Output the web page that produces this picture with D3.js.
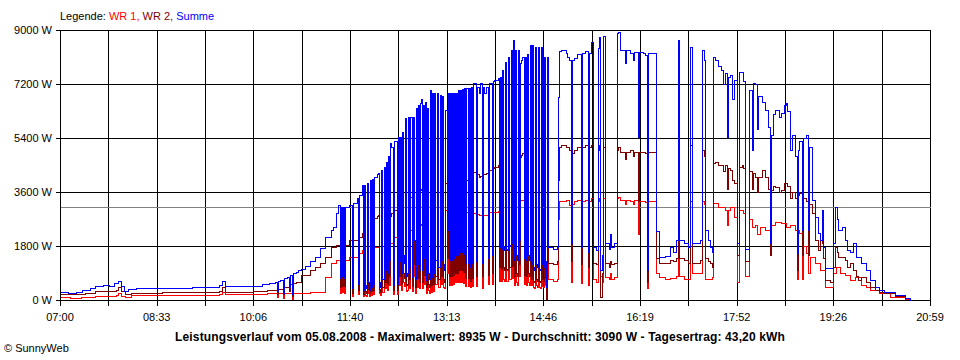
<!DOCTYPE html>
<html>
<head>
<meta charset="utf-8">
<script src="https://cdn.jsdelivr.net/npm/d3@7"></script>
<style>
  body { margin: 0; background: #fff; }
  svg { display: block; font-family: "Liberation Sans", Arial, sans-serif; font-size: 11px; }
</style>
</head>
<body>
<div id="chart"></div>
<script>
// time = minutes after 07:00, value = W
const xTickLabels = ['07:00', '08:33', '10:06', '11:40', '13:13', '14:46', '16:19', '17:52', '19:26', '20:59'];
const yTicks = [0, 1800, 3600, 5400, 7200, 9000];
const averageW = 3090;

const summe = [
  [0,270],[8,230],[15,260],[21,330],[29,400],[34,460],[41,500],[47,470],[52,560],[56,650],[59,480],[62,300],[66,380],[73,400],[98,410],[127,420],[147,440],[153,500],[156,650],[159,470],[166,460],[186,480],[195,530],[202,560],[207,600],[209,300],[210,620],[212,680],[215,250],[216,720],[219,780],[221,430],[222,850],[224,200],[225,900],[228,950],[230,1000],
  [232,1030],[236,1150],[241,1300],[246,1440],[251,1750],[256,2100],[261,2350],[263,2450],[266,2900],[268,3170],[270,730],[271,3100],[272,800],[273,3100],[274,750],[275,3100],[279,3170],[282,400],[283,3250],[286,3400],[287,550],[288,3500],[291,3830],[292,330],[293,3830],[294,500],[295,400],[296,3900],[297,600],[298,350],[299,4000],[300,450],[301,4050],[302,550],[303,4100],[306,4200],[307,4250],[308,600],[309,450],[310,4330],[311,700],[312,4450],[313,1000],[314,4600],[315,900],[316,4800],[317,1330],[318,5230],[319,5100],[321,500],[322,5300],[325,550],
  [326,5430],[327,1300],[328,5430],[329,900],[330,5600],[331,1500],[332,1230],[333,6070],[334,800],[335,900],[336,6100],[337,1100],[338,6100],[339,770],[340,6100],[341,2000],[342,700],[343,6400],[344,1200],[345,6500],[346,1000],[347,6570],[348,6700],[349,1000],[350,6500],[351,1400],[352,6600],[353,670],[354,6400],[355,900],[356,700],[357,7000],
  [358,770],[359,6900],[360,900],[361,6900],[362,1330],[363,1330],[364,6900],[365,1100],[366,6850],[367,1330],[368,6800],[369,1200],[370,1000],[371,6330],[373,2330],[374,6900],[375,1330],[376,6900],[377,1330],[378,6900],[379,1400],[380,6900],[381,1500],[382,6900],[383,1500],[384,7000],[385,1600],[386,7000],[387,1600],[388,7050],[389,1530],[390,7070],[391,1230],[392,7070],[393,1230],[394,7070],[395,1100],[396,7100],[397,1230],[398,7230],[401,1300],[402,7100],[404,6900],[405,7230],[407,1230],[408,7100],[409,6900],[411,7100],[413,1400],[414,7230],[417,1500],[418,7300],[419,7330],[422,7400],
  [423,1770],[424,7430],[425,1700],[426,7670],[427,1800],[428,1670],[429,7930],[430,1700],[431,1670],[432,8100],[433,1800],[434,1830],[435,8330],[436,1900],[437,8670],[438,1330],[439,8330],[440,1500],[441,1330],[442,8330],[443,2000],[444,7900],[445,8000],[446,8100],[447,1400],[448,8100],[449,1330],[450,8200],[451,1500],[452,1330],[453,8500],[454,1200],[455,8500],[456,1100],[457,1000],[458,8450],[459,1200],[460,1100],[461,8430],[462,1050],[463,1000],[464,8430],[465,1200],[466,1100],[467,8100],[468,1300],[469,450],[470,8100],[471,1770],[475,1700],[479,1770],[480,6770],[481,8300],
  [483,8330],[488,8230],[489,8100],[491,8000],[493,1900],[494,8000],[496,8050],[499,8200],[502,1770],[503,8230],[506,8300],[509,1600],[510,8230],[512,8600],[514,1770],[517,1670],[519,8400],[520,8770],[521,1000],[523,1500],[524,8800],[526,1900],[529,1700],[530,2200],[531,1770],[534,1900],[537,8900],[538,8935],[540,8330],[545,7900],[546,8330],[550,8230],[553,8000],[554,8270],[557,5430],[558,8270],[562,8230],[564,8170],[566,1000],[567,8230],[571,8230],[574,8230],[575,2300],[578,1430],[583,1470],[588,1770],[591,1600],[594,2000],[596,8670],[597,2000],[602,1900],[606,1770],
  [608,8430],[609,1900],[613,1900],[617,2000],[619,8330],[621,8000],[622,2330],[625,2000],[627,1770],[629,1600],[630,8100],[632,8000],[635,7800],[637,7670],[639,7200],[641,7570],[643,5430],[644,7430],[646,7500],[648,6700],[650,7330],[653,1900],[655,7600],[658,7600],[659,7300],[661,1700],[663,1700],[664,7000],[667,5000],[668,7230],[670,7200],[672,5700],[673,6800],[677,6600],[680,6330],[683,5770],[685,1900],[686,5500],[688,6200],[690,6330],[693,6100],[695,6230],[698,6500],[700,6570],[701,6300],[704,5000],[706,5500],[709,4800],[711,1570],[712,5000],[713,5300],[716,2330],[717,5400],[719,5500],[721,2330],[722,5100],[725,3330],[728,2770],[731,2230],[733,2000],[735,3000],[736,1770],[738,1070],[743,1070],[745,1900],[747,3100],[749,2700],[750,2330],[754,2430],[757,2000],[759,1670],[762,1600],[765,1900],[768,1430],[772,1230],[777,1000],[781,670],[786,430],[790,330],[795,270],[805,170],[815,70],[820,0]
];

const wr2 = [
  [0,200],[15,190],[24,250],[34,300],[44,310],[54,350],[56,420],[59,300],[63,200],[68,250],[98,260],[127,270],[153,300],[156,420],[159,280],[186,300],[200,330],[209,200],[210,380],[215,200],[216,420],[221,300],[222,520],[224,150],[225,560],[228,600],
  [232,830],[241,1000],[246,1100],[251,1250],[256,1430],[261,1770],[266,1830],[270,450],[271,1830],[272,480],[273,1830],[274,460],[275,1830],[279,2000],[282,250],[283,2000],[287,350],[288,2100],[291,2230],[292,200],[293,2230],[294,300],[295,250],[296,2400],[297,380],[298,220],[299,2570],[300,300],[301,2650],[302,350],[303,2730],[306,2800],[307,2850],[308,380],[309,280],[310,2930],[311,450],[312,2930],[313,600],[314,2930],[315,550],[316,2900],[317,800],[318,2800],[319,2900],[321,320],[322,3000],[325,350],
  [326,3100],[327,800],[328,3200],[329,550],[330,3250],[331,900],[332,750],[333,3330],[334,500],[335,550],[336,3400],[337,700],[338,3450],[339,480],[340,3500],[341,1200],[342,450],[343,3570],[344,750],[345,3600],[346,600],[347,3670],[348,3700],[349,600],[350,3700],[351,850],[352,3800],[353,420],[354,3900],[355,550],[356,450],[357,4000],
  [358,500],[359,4100],[360,550],[361,4100],[362,800],[363,800],[364,4100],[365,700],[366,4100],[367,800],[368,4100],[369,700],[370,600],[371,3900],[373,1400],[374,3900],[375,800],[376,3900],[377,800],[378,3900],[379,850],[380,3850],[381,900],[382,3800],[383,900],[384,3770],[385,1000],[386,3800],[387,1000],[388,3850],[389,950],[390,3900],[391,750],[392,4000],[393,750],[394,4100],[395,650],[396,4230],[397,750],[398,4270],[401,800],[402,4200],[404,4100],[405,4150],[407,800],[408,4200],[411,4230],[413,850],[414,4330],[417,900],[418,4400],[419,4430],[422,4500],
  [423,1100],[424,4570],[425,1050],[426,4700],[427,1100],[428,1000],[429,5000],[430,1050],[431,1000],[432,5100],[433,1100],[434,1100],[435,5230],[436,1150],[437,5100],[438,800],[439,5000],[440,900],[441,800],[442,4900],[443,1200],[444,4770],[445,4850],[446,4900],[447,850],[448,4950],[449,800],[450,5100],[451,900],[452,800],[453,5230],[454,700],[455,5200],[456,650],[457,600],[458,5150],[459,700],[460,650],[461,5000],[462,620],[463,600],[464,4900],[465,700],[466,650],[467,5000],[468,750],[469,50],[470,5000],[471,1230],[475,1200],[479,1300],[480,4000],[481,5100],
  [483,5170],[488,5100],[491,5000],[493,1300],[494,4900],[496,5000],[499,5100],[502,1200],[503,5100],[506,5170],[509,1100],[510,5100],[512,5170],[514,1230],[517,1200],[519,5000],[520,5170],[521,100],[523,900],[524,5100],[526,1230],[529,1100],[530,1300],[531,1200],[534,1230],[537,5000],[538,5100],[540,4930],[545,4700],[546,4930],[550,5000],[553,4800],[554,4930],[557,3300],[558,4930],[562,4930],[564,4900],[566,600],[567,4930],[571,4930],[574,4930],[575,1400],[578,1230],[583,1230],[588,1330],[591,1300],[594,1400],[596,5000],[597,1400],[602,1330],[606,1230],
  [608,5170],[609,1230],[613,1230],[617,1330],[619,5000],[621,4800],[622,1400],[625,1300],[627,1230],[629,1100],[630,4570],[632,4600],[635,4500],[637,4500],[639,4300],[641,4500],[643,3700],[644,4400],[646,4330],[648,4000],[650,3900],[653,1500],[655,4430],[658,4500],[659,4400],[661,1300],[663,1300],[664,4300],[667,3700],[668,4230],[670,4100],[672,3600],[673,4100],[677,4330],[680,4100],[683,3700],[685,1500],[686,3670],[688,3800],[690,3770],[693,3600],[695,3670],[698,3900],[700,3900],[701,3800],[704,3400],[706,3600],[709,3400],[711,1000],[712,3500],[713,3570],[716,1500],[717,3400],[719,3300],[721,1500],[722,3200],[725,2900],[728,2000],[731,1670],[733,2000],[735,1900],[736,1400],[738,670],[743,600],[745,1100],[747,1770],[749,1600],[750,1430],[754,1430],[757,1330],[759,1100],[762,1230],[765,1000],[768,800],[770,670],[772,770],[777,600],[781,430],[786,330],[790,270],[795,220],[805,150],[815,60],[820,0]
];

const wr1 = [
  [0,100],[10,60],[20,110],[34,140],[54,170],[56,230],[59,150],[63,100],[68,170],[127,180],[153,190],[156,260],[159,190],[186,200],[200,220],[209,100],[210,220],[215,80],[216,230],[224,50],[225,250],
  [232,250],[241,280],[251,280],[256,780],[261,1230],[266,1330],[270,250],[271,1340],[272,260],[273,1340],[274,250],[275,1350],[279,1430],[282,150],[283,1450],[287,200],[288,1550],[291,1670],[292,130],[293,1670],[294,180],[295,150],[296,1700],[297,220],[298,130],[299,1700],[300,180],[301,1730],[302,200],[303,1770],[306,1770],[307,1780],[308,220],[309,170],[310,1800],[311,280],[312,1820],[313,400],[314,1850],[315,350],[316,1870],[317,500],[318,1900],[321,200],[322,2100],[325,200],
  [326,2150],[327,500],[328,2200],[329,350],[330,2230],[331,600],[332,480],[333,2250],[334,300],[335,350],[336,2300],[337,400],[338,2350],[339,290],[340,2400],[341,800],[342,250],[343,2430],[344,450],[345,2450],[346,400],[347,2500],[348,2550],[349,400],[350,2570],[351,550],[352,2600],[353,250],[354,2650],[355,350],[356,250],[357,2770],
  [358,270],[359,2800],[360,300],[361,2800],[362,530],[363,530],[364,2850],[365,450],[366,2870],[367,530],[368,2900],[369,450],[370,400],[371,3000],[373,900],[374,2950],[375,500],[376,2950],[377,500],[378,2950],[379,550],[380,2930],[381,600],[382,2900],[383,600],[384,2900],[385,600],[386,2900],[387,600],[388,2920],[389,580],[390,2930],[391,480],[392,2930],[393,480],[394,2930],[395,450],[396,2930],[397,480],[398,2900],[401,480],[402,2870],[404,2830],[407,400],[408,2850],[413,520],[414,2930],[417,550],[418,2940],[419,2950],[422,2970],
  [423,650],[424,3000],[425,650],[426,3100],[427,700],[428,650],[429,3400],[430,650],[431,650],[432,3350],[433,700],[434,700],[435,3330],[436,750],[437,3300],[438,500],[439,3230],[440,600],[441,500],[442,3300],[443,800],[444,3330],[445,3330],[446,3340],[447,550],[448,3350],[449,500],[450,3350],[451,600],[452,500],[453,3400],[454,500],[455,3380],[456,450],[457,400],[458,3300],[459,500],[460,430],[461,3200],[462,420],[463,400],[464,3170],[465,480],[466,430],[467,3200],[468,500],[469,400],[470,3200],[471,700],[475,650],[479,700],[480,2700],[481,3300],
  [483,3300],[488,3350],[491,3170],[493,600],[494,3200],[496,3300],[499,3350],[502,570],[503,3300],[506,3350],[509,500],[510,3300],[512,3400],[514,700],[517,600],[519,3300],[520,3400],[521,800],[523,600],[524,3400],[526,770],[529,700],[530,900],[531,700],[534,770],[537,3400],[538,3450],[540,3330],[545,3200],[546,3330],[550,3300],[553,3200],[554,3330],[557,2200],[558,3300],[564,3270],[566,400],[567,3300],[574,3300],[575,900],[578,770],[583,700],[588,750],[594,800],[596,3300],[597,800],[602,700],[606,700],
  [608,3300],[609,900],[617,900],[619,3300],[621,3200],[622,700],[629,770],[630,3230],[635,3100],[641,3000],[643,2500],[644,3000],[646,3100],[650,2770],[653,600],[655,3000],[659,2900],[661,800],[663,800],[664,2700],[667,2430],[670,2500],[672,2200],[675,2430],[680,2330],[685,1700],[686,2500],[690,2600],[695,2570],[700,2430],[704,2500],[709,2330],[711,700],[712,2330],[713,2230],[716,700],[717,1800],[719,1570],[721,900],[723,1430],[728,1230],[733,1000],[738,430],[743,430],[745,900],[748,1100],[752,900],[757,830],[762,670],[767,770],[772,500],[777,430],[781,330],[790,230],[800,100],[815,30],[820,0]
];

const totalMinutes = 839;
const width = 960, height = 360;
const plotLeft = 60, plotRight = 930, plotTop = 30, plotBottom = 300;

const svg = d3.select('#chart').append('svg')
    .attr('width', width)
    .attr('height', height);

const x = d3.scaleLinear().domain([0, totalMinutes]).range([plotLeft, plotRight]);
const y = d3.scaleLinear().domain([0, 9000]).range([plotBottom, plotTop]);

const crisp = svg.append('g')
    .attr('transform', 'translate(0.5,0.5)')
    .attr('shape-rendering', 'crispEdges');

// vertical grid, half steps between labels
const gridCount = (xTickLabels.length - 1) * 2;
crisp.append('g').selectAll('line')
    .data(d3.range(0, gridCount + 1))
    .join('line')
    .attr('x1', d => Math.round(x(d * totalMinutes / gridCount)))
    .attr('x2', d => Math.round(x(d * totalMinutes / gridCount)))
    .attr('y1', plotTop)
    .attr('y2', plotBottom + 5)
    .attr('stroke', '#000');

// horizontal grid
crisp.append('g').selectAll('line')
    .data(yTicks)
    .join('line')
    .attr('x1', plotLeft - 5)
    .attr('x2', plotRight)
    .attr('y1', d => Math.round(y(d)))
    .attr('y2', d => Math.round(y(d)))
    .attr('stroke', '#000');

// average line
crisp.append('line')
    .attr('x1', plotLeft)
    .attr('x2', plotRight)
    .attr('y1', Math.round(y(averageW)))
    .attr('y2', Math.round(y(averageW)))
    .attr('stroke', '#808080');

const line = d3.line()
    .x(d => Math.round(x(d[0])))
    .y(d => Math.round(y(d[1])))
    .curve(d3.curveStepAfter);

// red first, Summe on top
const series = [
    { data: wr1, color: '#ff0000' },
    { data: wr2, color: '#800000' },
    { data: summe, color: '#0000ff' }
];

crisp.append('g').selectAll('path')
    .data(series)
    .join('path')
    .attr('d', d => line(d.data))
    .attr('fill', 'none')
    .attr('stroke', d => d.color)
    .attr('stroke-width', 1);

// y labels
svg.append('g').selectAll('text')
    .data(yTicks)
    .join('text')
    .attr('x', plotLeft - 8)
    .attr('y', d => y(d) + 4)
    .attr('text-anchor', 'end')
    .text(d => d + ' W');

// x labels
svg.append('g').selectAll('text')
    .data(xTickLabels)
    .join('text')
    .attr('x', (d, i) => x(i * totalMinutes / (xTickLabels.length - 1)))
    .attr('y', plotBottom + 21)
    .attr('text-anchor', 'middle')
    .text(d => d);

// legend
const legend = svg.append('text')
    .attr('x', plotLeft)
    .attr('y', 20);
legend.append('tspan').attr('fill', '#000').text('Legende: ');
legend.append('tspan').attr('fill', '#ff0000').text('WR 1, ');
legend.append('tspan').attr('fill', '#800000').text('WR 2, ');
legend.append('tspan').attr('fill', '#0000ff').text('Summe');

svg.append('text')
    .attr('x', 480)
    .attr('y', 341)
    .attr('text-anchor', 'middle')
    .attr('font-weight', 'bold')
    .attr('font-size', '12px')
    .attr('letter-spacing', '0.13px')
    .text('Leistungsverlauf vom 05.08.2008 - Maximalwert: 8935 W - Durchschnitt: 3090 W - Tagesertrag: 43,20 kWh');

svg.append('text')
    .attr('x', 4)
    .attr('y', 352)
    .text('\u00a9 SunnyWeb');
</script>
</body>
</html>
